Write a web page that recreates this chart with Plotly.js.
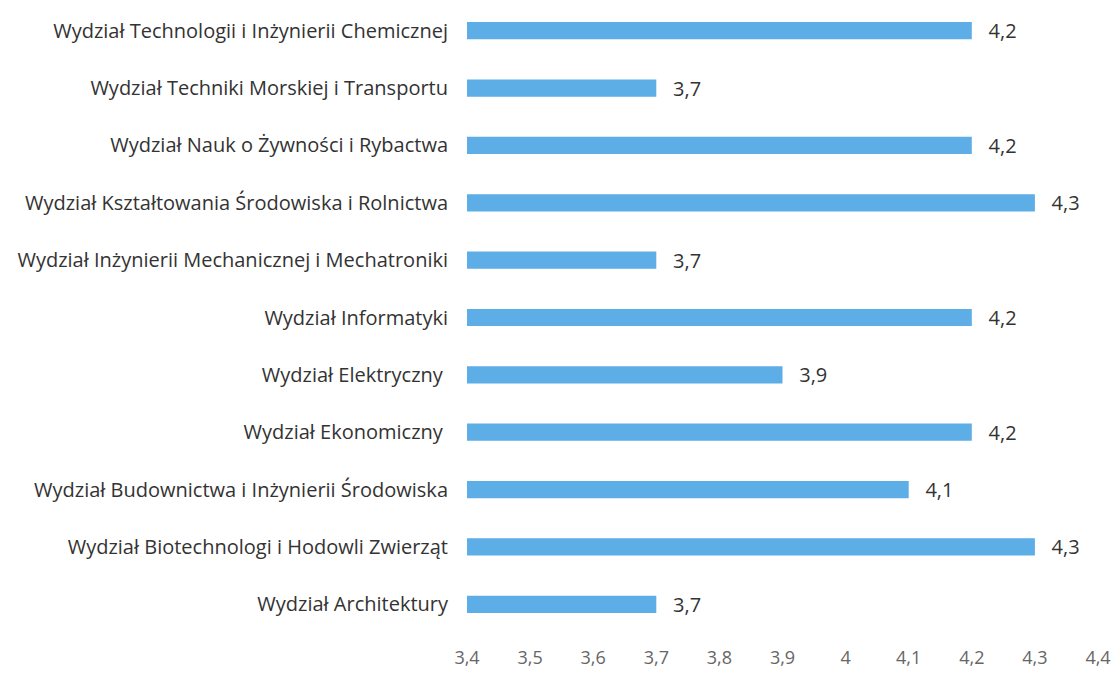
<!DOCTYPE html>
<html>
<head>
<meta charset="utf-8">
<script src="https://cdn.plot.ly/plotly-3.0.1.min.js"></script>
<style>html,body{margin:0;padding:0;background:#fff;}#chart{width:1116px;height:675px;}</style>
</head>
<body>
<div id="chart"></div>
<script>
const categories = [
  "Wydział Technologii i Inżynierii Chemicznej",
  "Wydział Techniki Morskiej i Transportu",
  "Wydział Nauk o Żywności i Rybactwa",
  "Wydział Kształtowania Środowiska i Rolnictwa",
  "Wydział Inżynierii Mechanicznej i Mechatroniki",
  "Wydział Informatyki",
  "Wydział Elektryczny\u00a0",
  "Wydział Ekonomiczny\u00a0",
  "Wydział Budownictwa i Inżynierii Środowiska",
  "Wydział Biotechnologi i Hodowli Zwierząt",
  "Wydział Architektury"
];
const values = [4.2, 3.7, 4.2, 4.3, 3.7, 4.2, 3.9, 4.2, 4.1, 4.3, 3.7];
const axisMin = 3.4;
const axisMax = 4.4;
const tickValues = [3.4, 3.5, 3.6, 3.7, 3.8, 3.9, 4.0, 4.1, 4.2, 4.3, 4.4];

const FONT = "Open Sans, Liberation Sans, sans-serif";

const trace = {
  type: "bar",
  orientation: "h",
  y: categories,
  x: values.map(v => +(v - axisMin).toFixed(2)),
  base: axisMin,
  customdata: values,
  width: 0.3,
  marker: {color: "#5DADE6", line: {width: 0}},
  texttemplate: "\u00a0\u00a0\u2009%{customdata:.1f}",
  textposition: "outside",
  constraintext: "none",
  textfont: {family: FONT, size: 20, color: "#333333"},
  cliponaxis: false,
  hoverinfo: "skip"
};

const layout = {
  width: 1116,
  height: 675,
  margin: {l: 467, r: 18, t: 2, b: 42},
  paper_bgcolor: "#ffffff",
  plot_bgcolor: "#ffffff",
  separators: ",.",
  showlegend: false,
  xaxis: {
    range: [axisMin, axisMax],
    tickvals: tickValues,
    ticktext: tickValues.map(v => (Math.round(v * 10) / 10).toString().replace(".", ",")),
    showgrid: false,
    zeroline: false,
    showline: false,
    ticks: "",
    ticklabelstandoff: 12,
    tickfont: {family: FONT, size: 18, color: "#666666"},
    fixedrange: true
  },
  yaxis: {
    type: "category",
    autorange: "reversed",
    showgrid: false,
    zeroline: false,
    showline: false,
    ticks: "",
    ticklabelstandoff: 18,
    tickfont: {family: FONT, size: 20, color: "#333333"},
    fixedrange: true
  }
};

Plotly.newPlot("chart", [trace], layout, {displayModeBar: false, staticPlot: true});
</script>
</body>
</html>
